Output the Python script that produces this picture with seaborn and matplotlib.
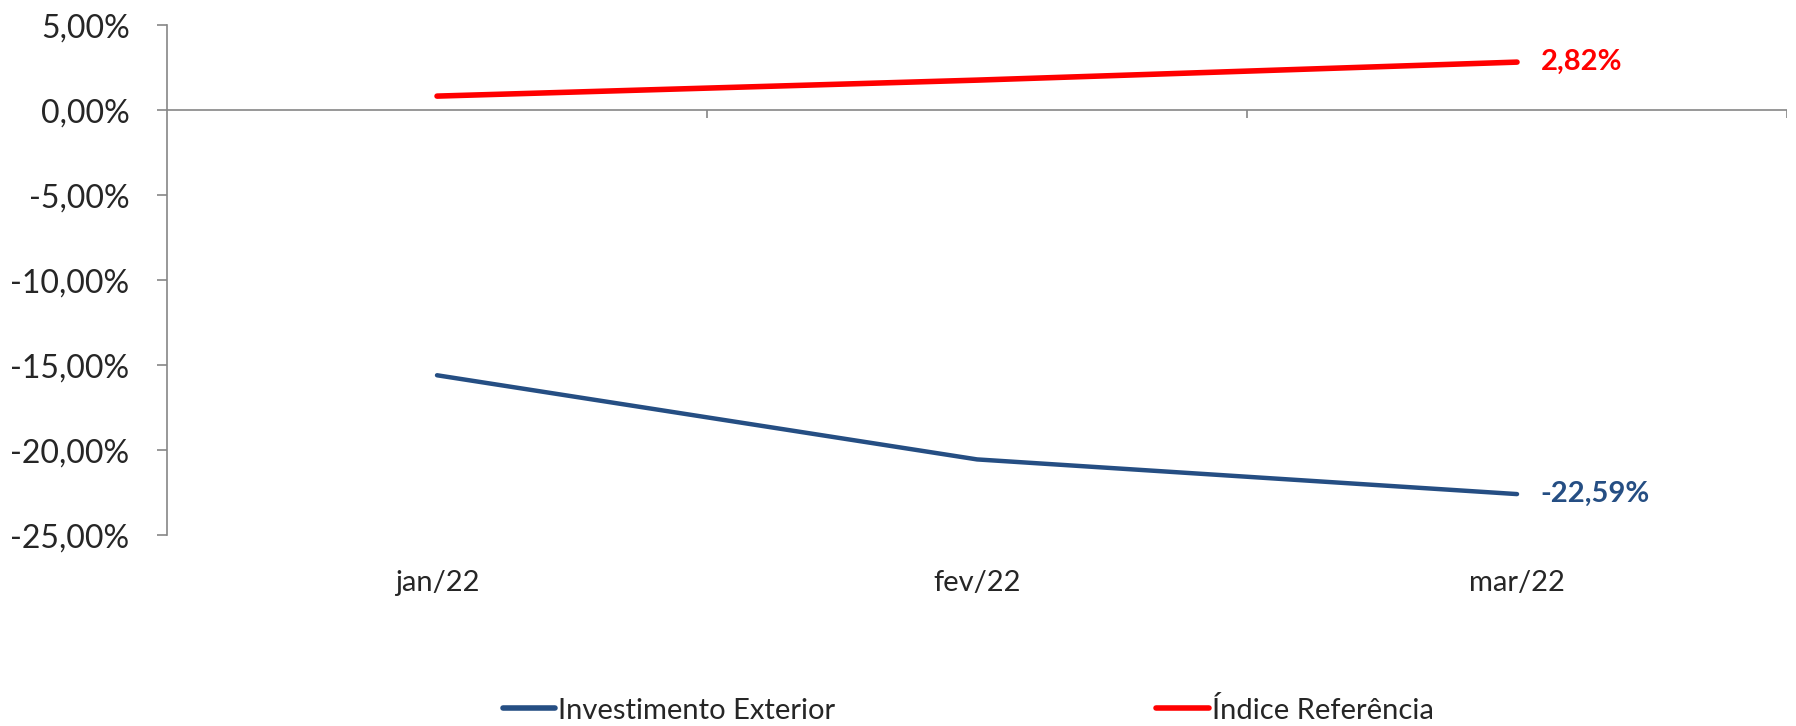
import pandas as pd
import matplotlib
matplotlib.use("Agg")
import matplotlib.pyplot as plt
from matplotlib.ticker import FuncFormatter
import seaborn as sns

months = ["jan/22", "fev/22", "mar/22"]
investimento = [-15.6, -20.55, -22.59]
indice = [0.82, 1.76, 2.82]
series_names = ["Investimento Exterior", "Índice Referência"]
colors = ["#254E83", "#FF0000"]

df = pd.DataFrame({
    "mes": months * 2,
    "valor": investimento + indice,
    "serie": [series_names[0]] * 3 + [series_names[1]] * 3,
})

sns.set_style("white")
plt.rcParams["font.family"] = ["Lato", "DejaVu Sans"]

fig = plt.figure(figsize=(17.96, 7.26), dpi=100)
ax = fig.add_axes([0.093, 0.263, 0.902, 0.7025])

sns.lineplot(data=df, x="mes", y="valor", hue="serie", palette=colors,
             ax=ax, sort=False, legend=False)
for line, lw in zip(ax.lines, [3.2, 4.0]):
    line.set_linewidth(lw)
    line.set_solid_capstyle("round")

ax.set_xlim(-0.5, 2.5)
ax.set_ylim(-25, 5)
ax.set_yticks(range(-25, 6, 5))
ax.yaxis.set_major_formatter(FuncFormatter(lambda v, p: f"{v:.2f}%".replace(".", ",")))
ax.tick_params(axis="y", labelsize=23, length=7, width=1.2, color="#868686",
               left=True, pad=20)
ax.tick_params(axis="x", labelsize=21, length=0, pad=25)
ax.set_xlabel("")
ax.set_ylabel("")

for side in ["top", "right", "bottom"]:
    ax.spines[side].set_visible(False)
ax.spines["left"].set_color("#868686")
ax.spines["left"].set_linewidth(1.2)

# category axis drawn through zero
ax.axhline(0, color="#868686", lw=1.2, zorder=1)
ax.vlines([0.5, 1.5, 2.5], -0.45, 0, color="#868686", lw=1.2, zorder=1)

# end-point labels
ax.annotate(f"{indice[-1]:.2f}%".replace(".", ","), (2, indice[-1]),
            xytext=(17, 0), textcoords="offset points", va="center",
            fontsize=21, fontweight="bold", color=colors[1])
ax.annotate(f"{investimento[-1]:.2f}%".replace(".", ","), (2, investimento[-1]),
            xytext=(17, 0), textcoords="offset points", va="center",
            fontsize=21, fontweight="bold", color=colors[0])

handles = [plt.Line2D([], [], color=c, lw=4, solid_capstyle="round") for c in colors]
fig.legend(handles, series_names, loc="center", bbox_to_anchor=(0.539, 0.022),
           ncol=2, frameon=False, fontsize=21, handlelength=1.8,
           handletextpad=0.1, columnspacing=11)

fig.savefig("out.png", dpi=100)
